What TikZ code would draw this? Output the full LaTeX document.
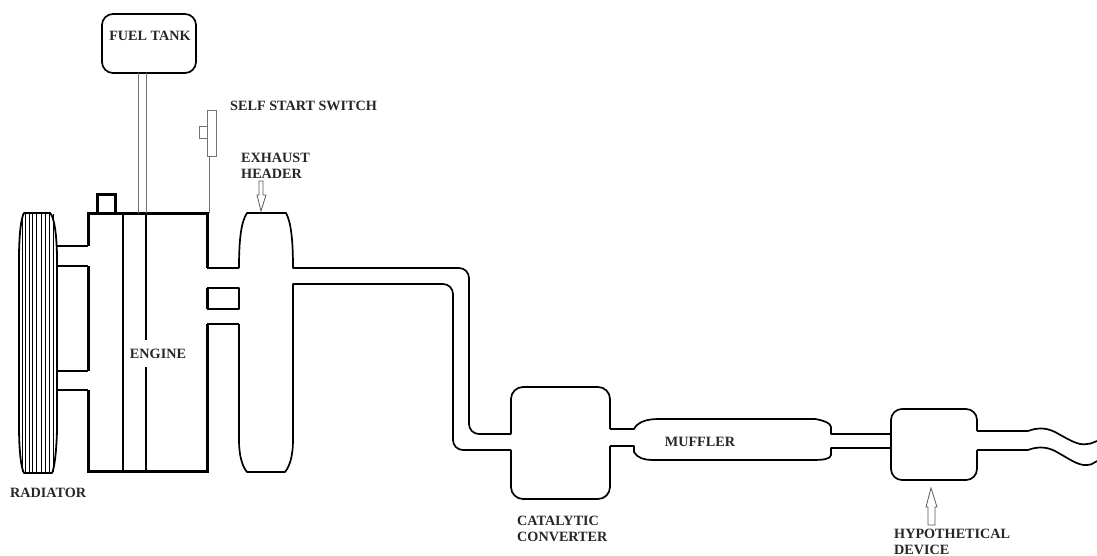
\documentclass[tikz,border=0pt]{standalone}
\usepackage{fontspec}
\setmainfont{Liberation Serif}
\usepackage{tikz}
\usetikzlibrary{positioning}
\tikzset{>=latex}
\tikzset{pipe/.style={line width=1.7pt, line join=round},
  heavy/.style={line width=3pt},
  wire/.style={line width=0.8pt, draw=black!55},
  hollow/.style={line width=0.8pt, draw=black!65, line join=miter},
  caption/.style={inner sep=0pt, text=black!85, font=\bfseries\fontsize{14.2}{16}\selectfont, align=left}}

\begin{document}
\begin{tikzpicture}[x=1pt, y=-1pt]
  \useasboundingbox (0,0) rectangle (1097,556);
  % radiator
  \draw[pipe, line width=1.8pt] (24,213) -- (50,213) .. controls (54,216) and (57,235) .. (57,260) -- (57,425)
    .. controls (57,450) and (54,470) .. (52,473) -- (24,473)
    .. controls (21,468) and (19,450) .. (19,425) -- (19,260)
    .. controls (19,235) and (21,218) .. (24,213) -- cycle;
  \foreach \ribx in {22,25,29,32,36,41,45,49,53} {
    \draw[line width=0.9pt] (\ribx,214) -- (\ribx,472);
  }
  \draw[pipe] (57,246) -- (88,246);
  \draw[pipe] (57,266) -- (88,266);
  \draw[pipe] (57,371) -- (88,371);
  \draw[pipe] (57,390) -- (88,390);
  % engine
  \draw[heavy] (88,246) -- (88,213) -- (207,213) -- (207,268);
  \draw[heavy] (88,266) -- (88,371);
  \draw[heavy] (88,390) -- (88,471) -- (207,471) -- (207,324);
  \draw[heavy] (97,213) -- (97,195) -- (115,195) -- (115,213);
  \draw[pipe] (123,213) -- (123,471);
  \draw[pipe] (146,213) -- (146,340);
  \draw[pipe] (146,367) -- (146,471);
  \draw[heavy] (207,288) -- (207,309);
  \draw[pipe] (207,268) -- (239,268);
  \draw[pipe] (207,288) -- (239,288) -- (239,309) -- (207,309);
  \draw[pipe] (207,324) -- (239,324);
  % fuel tank and switch
  \draw[pipe, rounded corners=11pt] (102,14) rectangle (196,73);
  \draw[wire] (138,73) -- (138,213);
  \draw[wire] (146,73) -- (146,213);
  \draw[wire] (207,110) rectangle (216,156);
  \draw[wire] (199,126) rectangle (207,138);
  \draw[wire] (209,156) -- (209,213);
  % exhaust header
  \draw[pipe] (239,268) .. controls (239,240) and (241,222) .. (247,213) -- (286,213)
    .. controls (291,222) and (293,240) .. (293,268)
    [rounded corners=10pt] -- (469,268) -- (469,434) -- (511,434);
  \draw[pipe] (239,324) -- (239,440) .. controls (239,455) and (242,466) .. (247,472) -- (285,472)
    .. controls (290,466) and (293,455) .. (293,440) -- (293,284)
    [rounded corners=10pt] -- (453,284) -- (453,450) -- (511,450);
  % catalytic converter
  \draw[pipe, rounded corners=12pt] (511,434) -- (511,387) -- (610,387) -- (610,429);
  \draw[pipe, rounded corners=12pt] (511,450) -- (511,499) -- (610,499) -- (610,446);
  % muffler
  \draw[pipe] (610,429) -- (634,429) .. controls (637,423) and (645,419) .. (658,419) -- (815,419)
    .. controls (822,420) and (831,423) .. (831,427) -- (831,434) -- (891,434);
  \draw[pipe] (610,446) -- (634,446) -- (634,452) .. controls (637,458) and (645,460) .. (652,460) -- (815,460)
    .. controls (822,460) and (831,459) .. (831,455) -- (831,448) -- (891,448);
  % hypothetical device and tail pipe
  \draw[pipe, rounded corners=11pt] (891,434) -- (891,409) -- (977,409) -- (977,431);
  \draw[pipe, rounded corners=11pt] (891,448) -- (891,480) -- (977,480) -- (977,450);
  \draw[pipe] (891,434) -- (891,448);
  \draw[pipe] (977,431) -- (1028,431) .. controls (1036,428) and (1045,427) .. (1055,432)
    .. controls (1068,439) and (1078,446) .. (1087,444) .. controls (1091,444) and (1094,442) .. (1097,441);
  \draw[pipe] (977,450) -- (1028,450) .. controls (1036,447) and (1045,446) .. (1055,451)
    .. controls (1068,458) and (1078,466) .. (1087,465) .. controls (1091,465) and (1094,463) .. (1097,461);
  % hollow arrows
  \draw[hollow] (259,181) -- (263,181) -- (263,195) -- (266,195) -- (261,211) -- (257,195) -- (259,195) -- cycle;
  \draw[hollow] (928,525) -- (935,525) -- (935,507) -- (937,507) -- (931,488) -- (926,507) -- (928,507) -- cycle;
  % labels
  \node[caption, anchor=center] (tank) at (150,36) {FUEL TANK};
  \node[caption, anchor=west] (switch) at (230,106) {SELF START SWITCH};
  \node[caption, anchor=west] (header) at (241,166) {EXHAUST\\HEADER};
  \node[caption, anchor=center] (engine) at (158,354) {ENGINE};
  \node[caption, anchor=west] (radiator) at (10,493) {RADIATOR};
  \node[caption, anchor=center] (muffler) at (700,442) {MUFFLER};
  \node[caption, anchor=west] (converter) at (517,529) {CATALYTIC\\CONVERTER};
  \node[caption, anchor=west] (device) at (894,541.5) {HYPOTHETICAL\\DEVICE};
\end{tikzpicture}
\end{document}
